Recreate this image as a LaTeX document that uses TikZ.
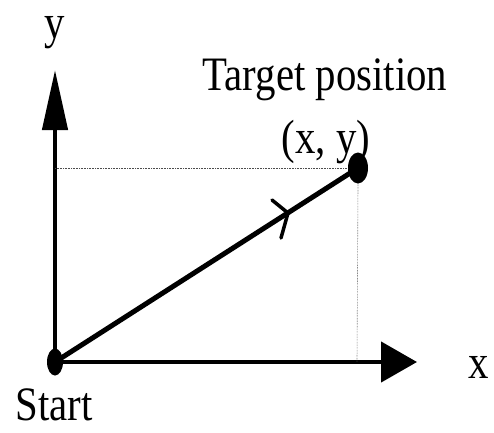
\documentclass[tikz,border=0pt]{standalone}
\usepackage{fontspec}
\newfontfamily\lbl[FakeStretch=0.85]{Liberation Serif}
\usetikzlibrary{arrows.meta,shapes.geometric}
\begin{document}
\begin{tikzpicture}[x=1pt,y=-1pt,
  lab/.style={font=\lbl\fontsize{48}{56}\selectfont, inner sep=0pt, anchor=base},
  dot/.style={ellipse, fill=black, inner sep=0pt},
  axis/.style={line width=4.5pt},
  guide/.style={densely dotted, line width=0.6pt, black!70},
  path/.style={line width=5pt}]
\useasboundingbox (0,0) rectangle (494,432);
\node[dot, minimum width=16pt, minimum height=27pt] (O) at (55,362) {};
\node[dot, minimum width=20pt, minimum height=31pt] (T) at (358,168) {};
\coordinate (ytip) at (55,70);
\coordinate (xtip) at (417,362);
\coordinate (yt) at (55,168);
\coordinate (xt) at (357,362);
\draw[axis, -{Triangle[length=60pt,width=25pt]}] (O.center) -- (ytip);
\draw[axis, -{Triangle[length=36pt,width=40pt]}] (O.center) -- (xtip);
\draw[guide] (yt) -- (T.west);
\draw[guide] (T.south) -- (xt);
\draw[path] (O.center) -- (T.center);
\draw[line width=3.5pt, line cap=round] (272,200) -- (288,213) -- (281,238);
\node[lab] (ly) at (55,38) {y};
\node[lab] (lt) at (325,90) {Target position};
\node[lab] (lxy) at (326,153) {(x, y)};
\node[lab] (lx) at (479,378) {x};
\node[lab] (ls) at (54,420) {Start};
\end{tikzpicture}
\end{document}
